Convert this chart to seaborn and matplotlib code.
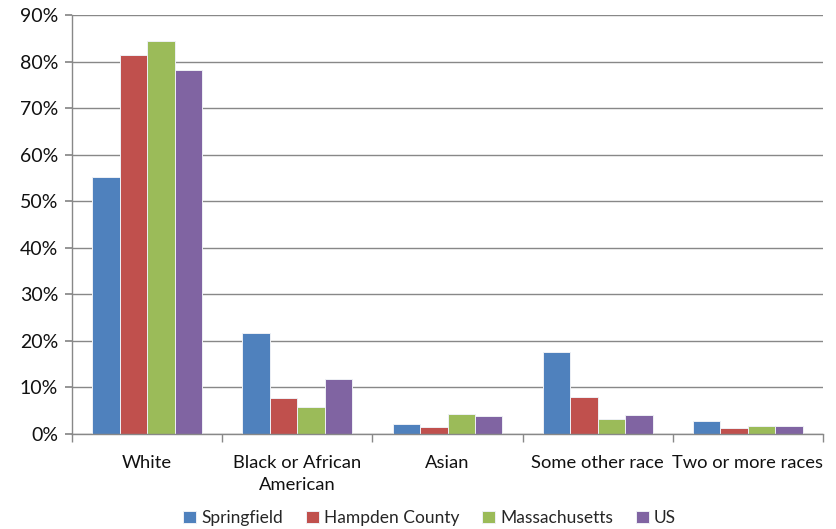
import numpy as np
import pandas as pd
import matplotlib
matplotlib.use("Agg")
import matplotlib.pyplot as plt
import seaborn as sns
from matplotlib.ticker import FixedLocator, PercentFormatter

categories = ["White", "Black or African\nAmerican", "Asian", "Some other race", "Two or more races"]
springfield = [55.1, 21.8, 2.1, 17.6, 2.8]
hampden = [81.5, 7.7, 1.4, 7.9, 1.2]
massachusetts = [84.5, 5.8, 4.4, 3.2, 1.7]
us = [78.1, 11.9, 3.9, 4.0, 1.7]
series_names = ["Springfield", "Hampden County", "Massachusetts", "US"]
colors = ["#4F81BD", "#C0504D", "#9BBB59", "#8064A2"]

rows = []
for name, vals in zip(series_names, [springfield, hampden, massachusetts, us]):
    for cat, v in zip(categories, vals):
        rows.append({"Race": cat, "Area": name, "Share": v})
df = pd.DataFrame(rows)

sns.set_theme(style="white")
plt.rcParams["font.family"] = ["Lato", "DejaVu Sans"]

fig = plt.figure(figsize=(8.36, 5.29), dpi=100)
ax = fig.add_axes([72/836, 1-434/529, (823-72)/836, (434-15)/529])

sns.barplot(data=df, x="Race", y="Share", hue="Area", order=categories,
            hue_order=series_names, palette=colors, width=0.73, ax=ax,
            edgecolor="#eef0f5", linewidth=0.7, saturation=1, legend=True)

grid_c = "#888888"
ax.set_ylim(0, 90)
ax.set_xlim(-0.5, len(categories) - 0.5)
ax.yaxis.set_major_locator(FixedLocator(np.arange(0, 91, 10)))
ax.yaxis.set_major_formatter(PercentFormatter(decimals=0))
ax.grid(axis="y", color=grid_c, linewidth=1)
ax.set_axisbelow(True)
for side in ["top", "right"]:
    ax.spines[side].set_visible(False)
for side in ["left", "bottom"]:
    ax.spines[side].set_color(grid_c)
    ax.spines[side].set_linewidth(1)

ax.set_xlabel("")
ax.set_ylabel("")
ax.tick_params(axis="y", which="major", left=True, length=5, color=grid_c,
               labelsize=14, pad=5, labelcolor="#111111")
ax.tick_params(axis="x", which="major", bottom=False, labelsize=13.2, pad=9,
               labelcolor="#111111")
for lbl in ax.get_xticklabels():
    lbl.set_linespacing(1.45)
ax.xaxis.set_minor_locator(FixedLocator(np.arange(-0.5, len(categories), 1.0)))
ax.tick_params(axis="x", which="minor", bottom=True, length=6, color=grid_c)

handles, labels = ax.get_legend_handles_labels()
ax.get_legend().remove()
fig.legend(handles, labels, loc="center", bbox_to_anchor=(0.514, 1-518/529),
           ncol=4, frameon=False, fontsize=12.5, handlelength=0.75,
           handleheight=0.75, handletextpad=0.3, columnspacing=1.3)

fig.savefig("out.png", dpi=100)
